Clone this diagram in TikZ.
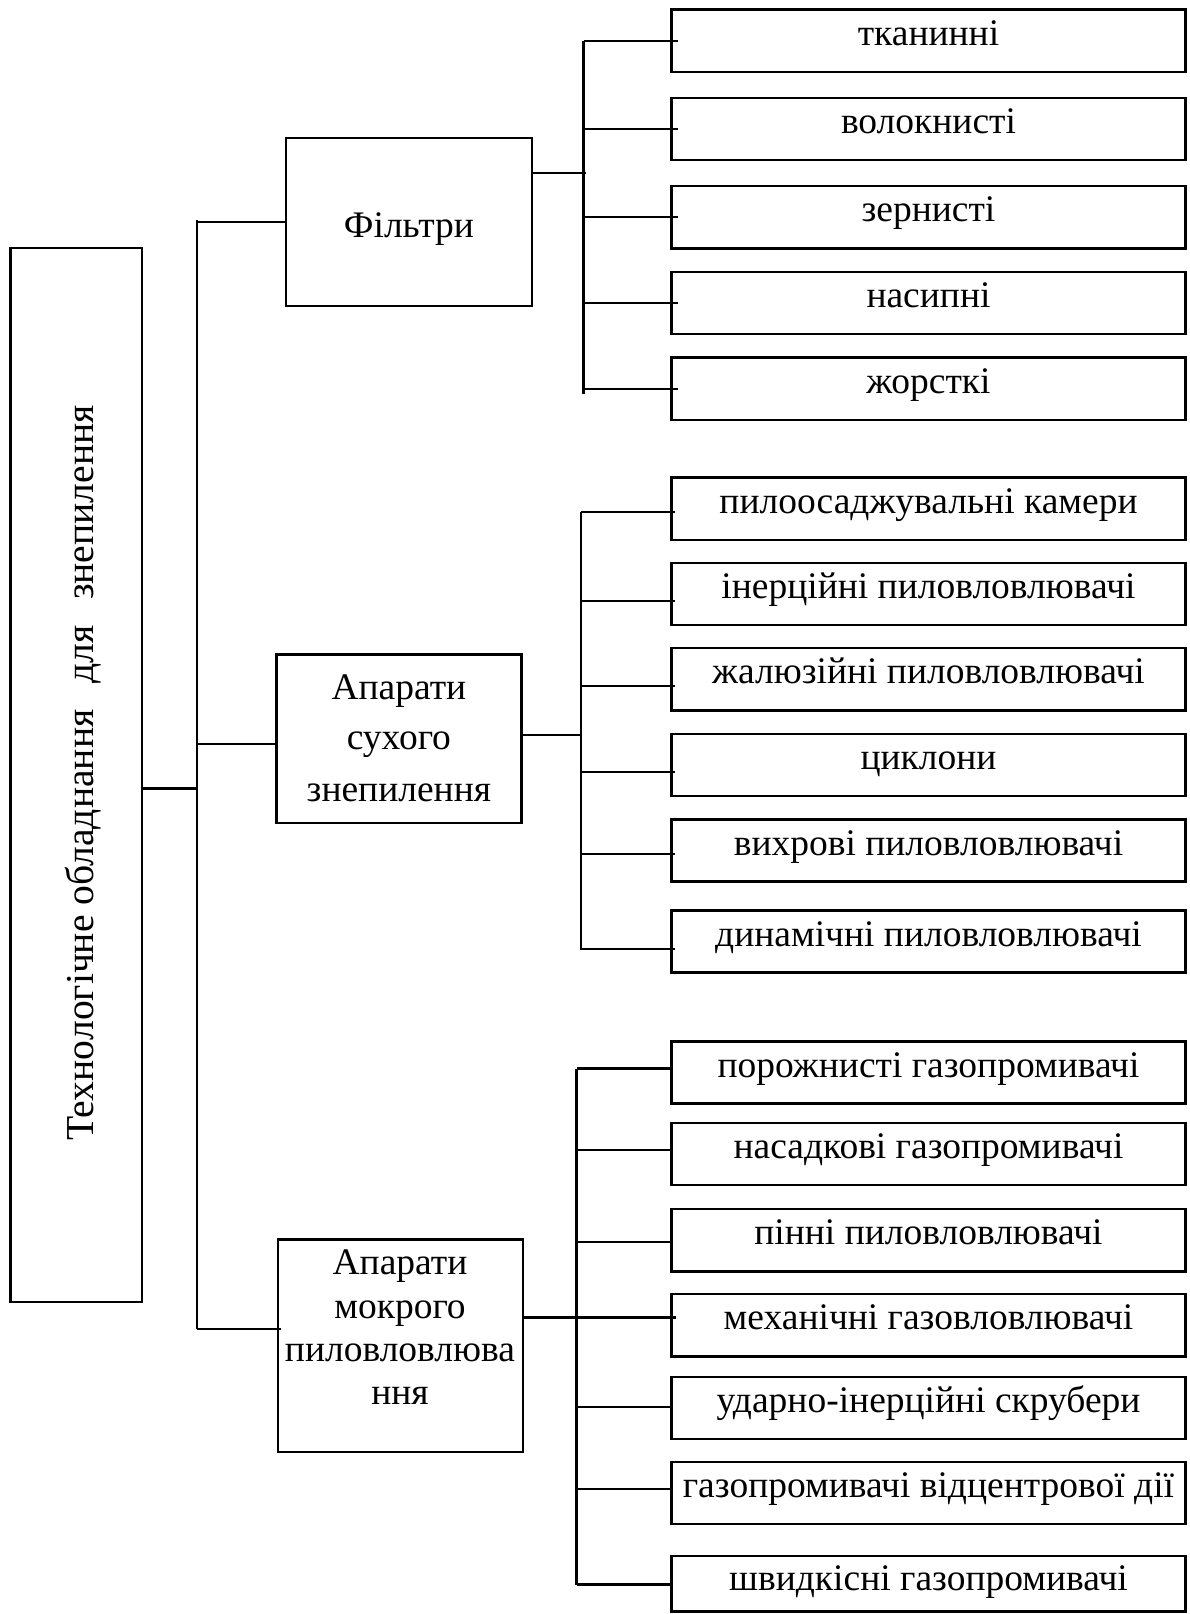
\documentclass[tikz,border=0pt]{standalone}
\usepackage{fontspec}
\setmainfont{Liberation Serif}
\usetikzlibrary{calc}
\begin{document}
\begin{tikzpicture}[x=1pt,y=-1pt,
  bx/.style={draw, line width=2.4pt, inner sep=0pt, outer sep=0pt},
  leaf/.style={bx, minimum width=514pt, minimum height=62.3pt, font=\fontsize{37.5}{44}\selectfont, text height=26pt, text depth=17pt},
  lastleaf/.style={leaf, minimum height=55.5pt, text depth=12.5pt},
  lbl/.style={font=\fontsize{37.5}{44}\selectfont, anchor=base, inner sep=0pt},
  ln/.style={line width=2.2pt}]
\useasboundingbox (0,0) rectangle (1189,1614);
% root
\node[bx, minimum width=131.7pt, minimum height=1054pt] (root) at (76.2,775) {};
\node[rotate=90, anchor=base, inner sep=0pt, font=\fontsize{39.6}{47}\selectfont] (roottext) at (93,773) {Технологічне обладнання\hspace{0.4em} для\hspace{0.4em} знепилення};
% middle boxes
\node[bx, minimum width=245.7pt, minimum height=168pt] (filt) at (408.9,221.7) {};
\node[lbl] (filtt) at (409,237) {Фільтри};
\node[bx, minimum width=245pt, minimum height=168.4pt] (dry) at (398.9,738.7) {};
\node[lbl] (dry1) at (398.9,699.3) {Апарати};
\node[lbl] (dry2) at (398.9,749.6) {сухого};
\node[lbl] (dry3) at (398.9,801) {знепилення};
\node[bx, minimum width=245pt, minimum height=212.6pt] (wet) at (400.2,1345.9) {};
\node[lbl] (wet1) at (400,1274) {Апарати};
\node[lbl] (wet2) at (400,1318.4) {мокрого};
\node[lbl] (wet3) at (400,1361.6) {пиловловлюва};
\node[lbl] (wet4) at (400,1404.8) {ння};
% leaves
\node[leaf] (f1) at (928.5,40.7) {тканинні};
\node[leaf] (f2) at (928.5,129) {волокнисті};
\node[leaf] (f3) at (928.5,217.2) {зернисті};
\node[leaf] (f4) at (928.5,303.1) {насипні};
\node[leaf] (f5) at (928.5,388.8) {жорсткі};
\node[leaf] (d1) at (928.5,508.7) {пилоосаджувальні камери};
\node[leaf] (d2) at (928.5,593.9) {інерційні пиловловлювачі};
\node[leaf] (d3) at (928.5,679.2) {жалюзійні пиловловлювачі};
\node[leaf] (d4) at (928.5,765) {циклони};
\node[leaf] (d5) at (928.5,850.5) {вихрові пиловловлювачі};
\node[leaf] (d6) at (928.5,941.5) {динамічні пиловловлювачі};
\node[leaf] (w1) at (928.5,1072.5) {порожнисті газопромивачі};
\node[leaf] (w2) at (928.5,1153.9) {насадкові газопромивачі};
\node[leaf] (w3) at (928.5,1240.2) {пінні пиловловлювачі};
\node[leaf] (w4) at (928.5,1325.3) {механічні газовловлювачі};
\node[leaf] (w5) at (928.5,1408.1) {ударно-інерційні скрубери};
\node[leaf] (w6) at (928.5,1493.1) {газопромивачі відцентрової дії};
\node[lastleaf] (w7) at (928.5,1583.75) {швидкісні газопромивачі};
% trunk
\coordinate (tt) at (197.3,220);
\coordinate (tb) at (197.3,1329);
\coordinate (rj) at (197.3,788.5);
\coordinate (dj) at (197.3,744);
\draw[ln] (tt) -- (tb);
\draw[ln] (rj -| root.east) -- (rj);
\draw[ln] (tt |- filt.west) -- (filt.west);
\draw[ln] (dj) -- (dj -| dry.west);
\draw[ln] (tb) -- ($(tb -| wet.west)+(3,0)$);
% filter group
\coordinate (fbt) at (583.5,41.3);
\coordinate (fbb) at (583.5,394);
\coordinate (fj) at (585.5,173);
\draw[ln] (fbt) -- (fbb);
\draw[ln] (fj -| filt.east) -- (fj);
\foreach \i in {1,...,5} \draw[ln] (fbt |- f\i.west) -- ($(f\i.west)+(6,0)$);
% dry group
\coordinate (dbt) at (581,511.7);
\coordinate (dbb) at (581,950);
\coordinate (dc) at (581,734.8);
\draw[ln] (dbt) -- (dbb);
\draw[ln] (dc -| dry.east) -- (dc);
\foreach \i/\y in {1/511.7,2/600.7,3/686,4/771.7,5/854,6/948.7}
  \draw[ln] (581,\y) -- ($(581,\y -| d\i.west)+(3,0)$);
% wet group
\coordinate (wbt) at (576.5,1068.5);
\coordinate (wbb) at (576.5,1585);
\coordinate (wc) at (576.5,1317.5);
\draw[ln] (wbt) -- (wbb);
\draw[ln] (wc -| wet.east) -- ($(wc -| w4.west)+(4,0)$);
\foreach \i/\y in {1/1068.5,2/1150,3/1241.6,5/1407,6/1488.6,7/1584.4}
  \draw[ln] (576.5,\y) -- (576.5,\y -| w\i.west);
\end{tikzpicture}
\end{document}
